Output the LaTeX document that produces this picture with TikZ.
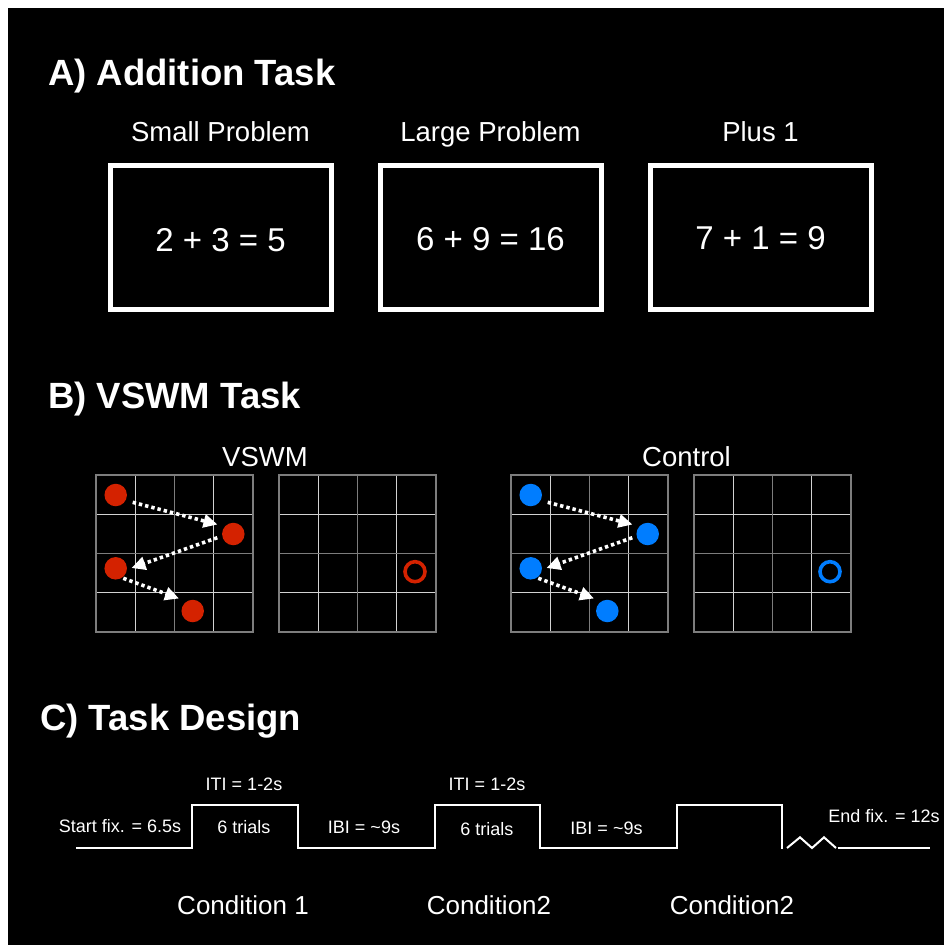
\documentclass[tikz,border=0pt]{standalone}
\usepackage{fontspec}
\setmainfont{Liberation Sans}
\usetikzlibrary{arrows.meta}
\definecolor{dotred}{RGB}{212,34,0}
\definecolor{dotblue}{RGB}{0,125,255}
\definecolor{gridouter}{RGB}{125,125,125}
\definecolor{gridinner}{RGB}{210,210,210}

% one 4x4 grid whose left edge is at x = #1
\newcommand\vsgrid[1]{%
  \foreach \k in {1,3} {
    \draw[gridin] ({#1+\k*39.25},475) -- ({#1+\k*39.25},632);
    \draw[gridin] (#1,{475+\k*39.25}) -- ({#1+157},{475+\k*39.25});
  }
  \draw[gridout] ({#1+78.5},475) -- ({#1+78.5},632);
  \draw[gridout] (#1,553.5) -- ({#1+157},553.5);
  \draw[gridout] (#1,475) rectangle ({#1+157},632);
}

\begin{document}
\begin{tikzpicture}[x=1pt,y=-1pt,
  heading/.style={anchor=base west, inner sep=0, text=white,
    font=\bfseries\fontsize{36.5}{40}\selectfont},
  caption/.style={anchor=base, inner sep=0, text=white,
    font=\fontsize{27.5}{32}\selectfont},
  equation/.style={anchor=base, inner sep=0, text=white,
    font=\fontsize{33}{38}\selectfont},
  probbox/.style={draw=white, line width=5pt, minimum width=221pt,
    minimum height=144.5pt, inner sep=0},
  small/.style={anchor=base, inner sep=0, text=white,
    font=\fontsize{18}{22}\selectfont},
  cond/.style={anchor=base, inner sep=0, text=white,
    font=\fontsize{26}{30}\selectfont},
  gridin/.style={draw=gridinner, line width=1.4pt},
  gridout/.style={draw=gridouter, line width=1.7pt},
  dot/.style={circle, inner sep=0, minimum size=22.5pt},
  ring/.style={circle, inner sep=0, minimum size=20pt, line width=3.6pt},
  hop/.style={draw=white, line width=3.6pt, dash pattern=on 3.4pt off 3pt,
    -{Triangle[length=14pt,width=13pt]}},
  wave/.style={draw=white, line width=2pt, line join=miter},
]
% page and dark panel
\fill[white] (0,0) rectangle (944,945);
\fill[black] (8,8) rectangle (944,945);

% ---------------- A) Addition Task ----------------
\node[heading] (hA) at (48,85) {A) Addition Task};
\node[caption] (capS) at (220.5,141) {Small Problem};
\node[caption] (capL) at (490.5,141) {Large Problem};
\node[caption] (capP) at (760.5,141) {Plus 1};
\node[probbox] (boxS) at (220.5,237.25) {};
\node[probbox] (boxL) at (490.5,237.25) {};
\node[probbox] (boxP) at (760.5,237.25) {};
\node[equation] (eqS) at (220.5,251.5) {2 + 3 = 5};
\node[equation] (eqL) at (490.5,250) {6 + 9 = 16};
\node[equation] (eqP) at (760.5,249) {7 + 1 = 9};

% ---------------- B) VSWM Task ----------------
\node[heading] (hB) at (48,408) {B) VSWM Task};
\node[caption] (capV) at (265,466) {VSWM};
\node[caption] (capC) at (686.5,466) {Control};

\vsgrid{96}
\vsgrid{279}
\vsgrid{511}
\vsgrid{694}

% sequence of red targets and the probe
\node[dot, fill=dotred] (r1) at (115.7,495) {};
\node[dot, fill=dotred] (r2) at (233.3,534) {};
\node[dot, fill=dotred] (r3) at (115.7,568.3) {};
\node[dot, fill=dotred] (r4) at (192.7,611) {};
\node[ring, draw=dotred] (rp) at (415,571.7) {};

% sequence of blue targets and the probe
\node[dot, fill=dotblue] (b1) at (530.7,495) {};
\node[dot, fill=dotblue] (b2) at (647.7,534) {};
\node[dot, fill=dotblue] (b3) at (530.7,568.3) {};
\node[dot, fill=dotblue] (b4) at (607.3,611) {};
\node[ring, draw=dotblue] (bp) at (830,571.7) {};

% dotted hops between targets
\coordinate (ra1) at (132.7,502.3);  \coordinate (rb1) at (217.5,524.5);
\coordinate (ra2) at (217.3,537.7);  \coordinate (rb2) at (131.5,568);
\coordinate (ra3) at (123.3,578.3);  \coordinate (rb3) at (179,598.5);
\draw[hop] (ra1) -- (rb1);
\draw[hop] (ra2) -- (rb2);
\draw[hop] (ra3) -- (rb3);
\coordinate (ba1) at (547.7,502.3);  \coordinate (bb1) at (632.5,524.5);
\coordinate (ba2) at (632.3,537.7);  \coordinate (bb2) at (546.5,568);
\coordinate (ba3) at (538.3,578.3);  \coordinate (bb3) at (594,598.5);
\draw[hop] (ba1) -- (bb1);
\draw[hop] (ba2) -- (bb2);
\draw[hop] (ba3) -- (bb3);

% ---------------- C) Task Design ----------------
\node[heading] (hC) at (40,730) {C) Task Design};

\coordinate (t0) at (76,848);
\coordinate (t1) at (192,848);   \coordinate (t2) at (192,804.5);
\coordinate (t3) at (298,804.5); \coordinate (t4) at (298,848);
\coordinate (t5) at (435,848);   \coordinate (t6) at (435,804.5);
\coordinate (t7) at (540,804.5); \coordinate (t8) at (540,848);
\coordinate (t9) at (677,848);   \coordinate (t10) at (677,804.5);
\coordinate (t11) at (782,804.5);\coordinate (t12) at (782,848.5);
\draw[wave] (t0) -- (t1) -- (t2) -- (t3) -- (t4) -- (t5) -- (t6) -- (t7)
  -- (t8) -- (t9) -- (t10) -- (t11) -- (t12);
% break in the time axis
\coordinate (z0) at (787,848);   \coordinate (z1) at (800,837.3);
\coordinate (z2) at (812,848);   \coordinate (z3) at (824,837.3);
\coordinate (z4) at (836,848);   \coordinate (z5) at (930,848);
\draw[wave] (z0) -- (z1) -- (z2) -- (z3) -- (z4);
\draw[wave] (837.5,848) -- (z5);

\node[small] (sfix) at (120,832.7) {Start fix. = 6.5s};
\node[small] (iti1) at (244,790) {ITI = 1-2s};
\node[small] (tr1) at (244,833) {6 trials};
\node[small] (ibi1) at (364,833) {IBI = {\char"007E}9s};
\node[small] (iti2) at (487,790) {ITI = 1-2s};
\node[small] (tr2) at (487,835) {6 trials};
\node[small] (ibi2) at (606.5,834) {IBI = {\char"007E}9s};
\node[small] (efix) at (884,822.5) {End fix. = 12s};

\node[cond] (c1) at (243,914) {Condition 1};
\node[cond] (c2) at (489,914) {Condition2};
\node[cond] (c3) at (732,914) {Condition2};
\end{tikzpicture}
\end{document}
